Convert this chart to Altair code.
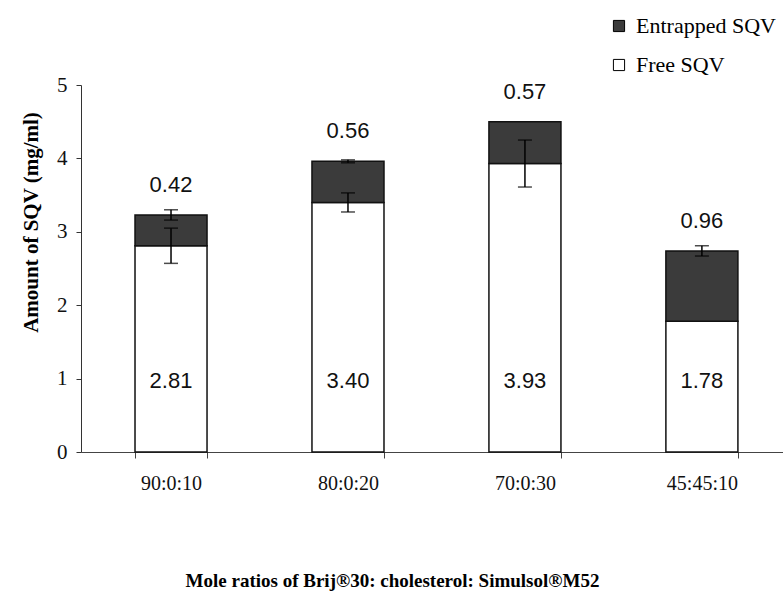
import altair as alt
import pandas as pd

# Mole ratios (Brij 30 : cholesterol : Simulsol M52)
ratios = ["90:0:10", "80:0:20", "70:0:30", "45:45:10"]
# Free and entrapped saquinavir (mg/ml)
free_sqv = [2.81, 3.40, 3.93, 1.78]
entrapped_sqv = [0.42, 0.56, 0.57, 0.96]
# Standard deviations of the free amount and of the total amount
free_sd = [0.24, 0.13, 0.32, 0.0]
total_sd = [0.07, 0.02, 0.0, 0.07]

series = ["Entrapped SQV", "Free SQV"]
series_colors = ["#3b3b3b", "#ffffff"]

rows = []
for r, f, e in zip(ratios, free_sqv, entrapped_sqv):
    rows.append({"ratio": r, "series": "Free SQV", "value": f, "layer": 0})
    rows.append({"ratio": r, "series": "Entrapped SQV", "value": e, "layer": 1})
bars_df = pd.DataFrame(rows)

err_rows = []
for r, f, e, fs, ts in zip(ratios, free_sqv, entrapped_sqv, free_sd, total_sd):
    if fs > 0:
        err_rows.append({"ratio": r, "lo": f - fs, "hi": f + fs})
    if ts > 0:
        err_rows.append({"ratio": r, "lo": f + e - ts, "hi": f + e + ts})
err_df = pd.DataFrame(err_rows)

label_df = pd.DataFrame({
    "ratio": ratios,
    "free": free_sqv,
    "entrapped": entrapped_sqv,
    "total": [f + e for f, e in zip(free_sqv, entrapped_sqv)],
})

SERIF = "Liberation Serif"
SANS = "Liberation Sans"

x_enc = alt.X(
    "ratio:N",
    sort=ratios,
    scale=alt.Scale(paddingInner=0.593, paddingOuter=0.28, align=0.545),
    axis=alt.Axis(
        title="Mole ratios of Brij®30: cholesterol: Simulsol®M52",
        labelAngle=0,
        labelFont=SERIF,
        labelFontSize=20,
        labelColor="#111",
        labelPadding=15,
        tickBand="extent",
        tickSize=6,
        tickColor="#444",
        domainColor="#444",
        titleFont=SERIF,
        titleFontSize=19,
        titleFontWeight="bold",
        titleColor="#000",
        titleBaseline="alphabetic",
        titleX=311,
        titleY=134,
        titleAlign="center",
    ),
)

y_scale = alt.Scale(domain=[0, 5], nice=False)
y_axis = alt.Axis(
    title="Amount of SQV (mg/ml)",
    values=[0, 1, 2, 3, 4, 5],
    format="d",
    grid=False,
    labelFont=SERIF,
    labelFontSize=21,
    labelColor="#111",
    labelPadding=9,
    tickSize=5,
    tickColor="#333",
    domainColor="#333",
    titleFont=SERIF,
    titleFontSize=21,
    titleFontWeight="bold",
    titleColor="#000",
    titleBaseline="alphabetic",
    titleX=-44,
    titleY=137,
    titleAlign="center",
    titleAngle=-90,
)

base = alt.Chart(bars_df)

bars = base.mark_bar(stroke="#111", strokeWidth=1.5).encode(
    x=x_enc,
    y=alt.Y("value:Q", stack="zero", scale=y_scale, axis=y_axis),
    color=alt.Color(
        "series:N",
        scale=alt.Scale(domain=series, range=series_colors),
        legend=alt.Legend(
            title=None,
            orient="none",
            legendX=527,
            legendY=-70,
            symbolType="square",
            symbolSize=125,
            symbolStrokeColor="#000",
            symbolStrokeWidth=1,
            labelFont=SERIF,
            labelFontSize=22,
            labelColor="#000",
            labelOffset=6,
            rowPadding=17,
        ),
    ),
    order=alt.Order("layer:Q", sort="ascending"),
)

err = alt.Chart(err_df)
stems = err.mark_rule(color="#000", strokeWidth=1.5).encode(
    x=alt.X("ratio:N", sort=ratios), y="lo:Q", y2="hi:Q"
)
caps_lo = err.mark_tick(color="#000", size=14, thickness=1.5, orient="horizontal").encode(
    x=alt.X("ratio:N", sort=ratios), y="lo:Q"
)
caps_hi = err.mark_tick(color="#000", size=14, thickness=1.5, orient="horizontal").encode(
    x=alt.X("ratio:N", sort=ratios), y="hi:Q"
)

labels = alt.Chart(label_df)
top_text = labels.mark_text(
    font=SANS, fontSize=22, color="#111", baseline="middle", dy=-30
).encode(
    x=alt.X("ratio:N", sort=ratios),
    y="total:Q",
    text=alt.Text("entrapped:Q", format=".2f"),
)
# free amounts written low inside the white bars
bottom_text = labels.mark_text(
    font=SANS, fontSize=22, color="#111", baseline="middle"
).encode(
    x=alt.X("ratio:N", sort=ratios),
    y=alt.datum(0.97),
    text=alt.Text("free:Q", format=".2f"),
)

chart = (
    alt.layer(bars, stems, caps_lo, caps_hi, top_text, bottom_text)
    .properties(
        width=702,
        height=367,
        autosize=alt.AutoSizeParams(type="none"),
        padding={"left": 81, "top": 85, "right": 0, "bottom": 140},
        background="white",
    )
    .configure_view(stroke=None)
)

chart.save("out.html", embed_options={"renderer": "svg", "actions": False})
